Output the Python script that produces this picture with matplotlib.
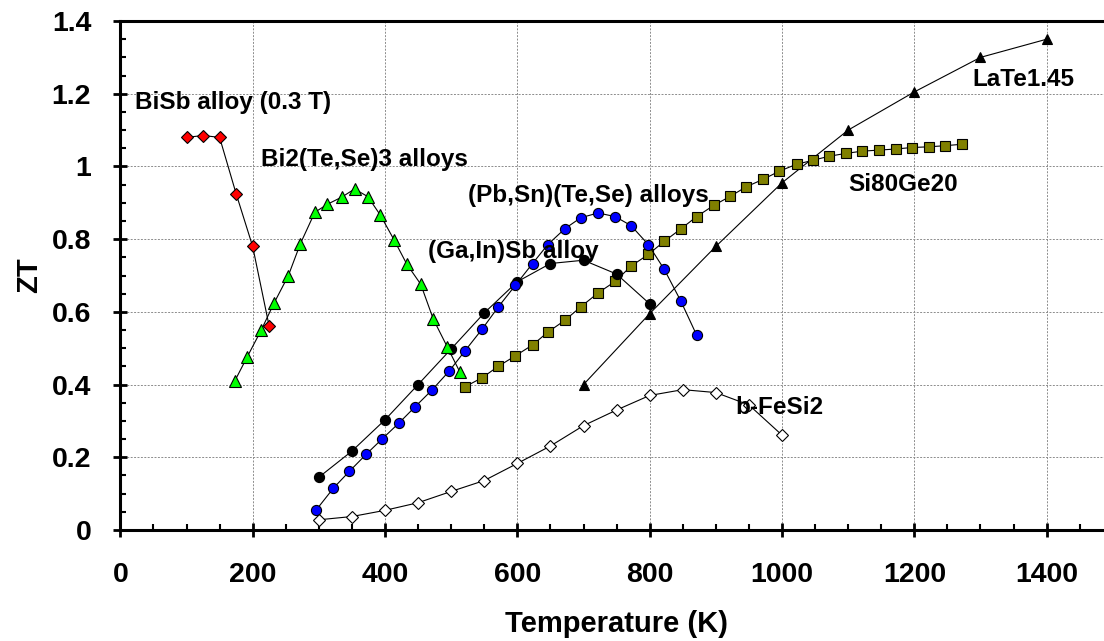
import numpy as np
import matplotlib
matplotlib.use("Agg")
import matplotlib.pyplot as plt
from matplotlib.ticker import MultipleLocator

plt.rcParams['font.family'] = ['Liberation Sans', 'DejaVu Sans']
plt.rcParams['font.weight'] = 'bold'

# ZT vs temperature for several thermoelectric materials
bisb_T = [100, 125, 150, 175, 200, 225]
bisb_zt = [1.08, 1.085, 1.08, 0.925, 0.78, 0.56]

bite_T = [173, 192, 213, 232, 254, 272, 294, 313, 335, 354, 374, 393, 414, 433, 454, 473, 494, 513]
bite_zt = [0.41, 0.477, 0.55, 0.623, 0.70, 0.787, 0.874, 0.896, 0.916, 0.938, 0.917, 0.866,
           0.797, 0.731, 0.676, 0.58, 0.504, 0.435]

gain_T = [300, 350, 400, 450, 500, 550, 600, 650, 700, 750, 800]
gain_zt = [0.145, 0.217, 0.303, 0.40, 0.498, 0.597, 0.683, 0.733, 0.742, 0.704, 0.622]

pbsn_T = [296, 322, 346, 372, 396, 421, 445, 471, 497, 521, 547, 571, 597, 623, 646, 672,
          696, 722, 748, 772, 798, 822, 847, 871]
pbsn_zt = [0.055, 0.115, 0.161, 0.209, 0.251, 0.294, 0.338, 0.385, 0.437, 0.493, 0.553, 0.613,
           0.673, 0.733, 0.785, 0.829, 0.859, 0.872, 0.862, 0.837, 0.785, 0.717, 0.630, 0.536]

sige_T = [521, 547, 571, 597, 623, 646, 672, 696, 722, 748, 772, 798, 822, 847, 871, 897,
          922, 946, 972, 996, 1022, 1047, 1071, 1097, 1121, 1147, 1172, 1196, 1222, 1246, 1272]
sige_zt = [0.394, 0.419, 0.45, 0.479, 0.509, 0.544, 0.577, 0.614, 0.652, 0.684, 0.726, 0.758,
           0.794, 0.828, 0.862, 0.893, 0.918, 0.944, 0.965, 0.987, 1.006, 1.017, 1.028, 1.036,
           1.042, 1.045, 1.048, 1.052, 1.054, 1.057, 1.061]

late_T = [700, 800, 900, 1000, 1100, 1200, 1300, 1400]
late_zt = [0.40, 0.595, 0.78, 0.955, 1.10, 1.205, 1.30, 1.35]

fesi_T = [300, 350, 400, 450, 500, 550, 600, 650, 700, 750, 800, 850, 900, 950, 1000]
fesi_zt = [0.028, 0.037, 0.054, 0.075, 0.106, 0.136, 0.183, 0.231, 0.287, 0.330, 0.370,
           0.386, 0.378, 0.344, 0.261]

fig = plt.figure(figsize=(11.04, 6.41), dpi=100)
ax = fig.add_axes([0.109, 0.1732, 0.899, 0.794])

lk = dict(color='black', lw=0.8, mec='black', mew=0.8)
ax.plot(fesi_T, fesi_zt, marker='D', ms=6.5, mfc='white', **lk)
ax.plot(late_T, late_zt, marker='^', ms=7.5, mfc='black', **lk)
ax.plot(sige_T, sige_zt, marker='s', ms=6.8, mfc='#808000', **lk)
ax.plot(gain_T, gain_zt, marker='o', ms=7.3, mfc='black', **lk)
ax.plot(pbsn_T, pbsn_zt, marker='o', ms=7.3, mfc='#0000FF', **lk)
ax.plot(bite_T, bite_zt, marker='^', ms=8.5, mfc='#00FF00', **lk)
ax.plot(bisb_T, bisb_zt, marker='D', ms=6.5, mfc='#FF0000', **lk)

lab = dict(fontsize=17.5, fontweight='bold', ha='left', va='center')
ax.text(22, 1.175, 'BiSb alloy (0.3 T)', **lab)
ax.text(213, 1.018, 'Bi2(Te,Se)3 alloys', **lab)
ax.text(525, 0.921, '(Pb,Sn)(Te,Se) alloys', **lab)
ax.text(465, 0.765, '(Ga,In)Sb alloy', **lab)
ax.text(1100, 0.949, 'Si80Ge20', **lab)
ax.text(1287, 1.238, 'LaTe1.45', **lab)
ax.text(930, 0.336, 'b-FeSi2', **lab)

ax.set_xlim(0, 1500)
ax.set_ylim(0, 1.4)
ax.xaxis.set_major_locator(MultipleLocator(200))
ax.xaxis.set_minor_locator(MultipleLocator(50))
ax.yaxis.set_major_locator(MultipleLocator(0.2))
ax.yaxis.set_minor_locator(MultipleLocator(0.05))
ax.set_yticks(np.arange(0, 1.41, 0.2))
ax.set_yticklabels(['0', '0.2', '0.4', '0.6', '0.8', '1', '1.2', '1.4'])

ax.grid(True, which='major', color='#8c8c8c', lw=0.7, linestyle=(0, (2, 1.5)))
ax.set_axisbelow(True)

ax.tick_params(which='major', direction='inout', length=10, width=2, labelsize=20.5)
ax.tick_params(axis='x', which='major', pad=18)
ax.tick_params(axis='y', which='major', pad=16)
ax.tick_params(which='minor', direction='in', length=4, width=1.5)
for t in ax.get_xticklabels() + ax.get_yticklabels():
    t.set_fontweight('bold')

for s in ['left', 'bottom', 'top']:
    ax.spines[s].set_linewidth(2.2)
ax.spines['right'].set_visible(False)

ax.set_xlabel('Temperature (K)', fontsize=21, fontweight='bold', labelpad=16)
ax.set_ylabel('ZT', fontsize=21, fontweight='bold', labelpad=6)

fig.savefig('out.png', dpi=100)
